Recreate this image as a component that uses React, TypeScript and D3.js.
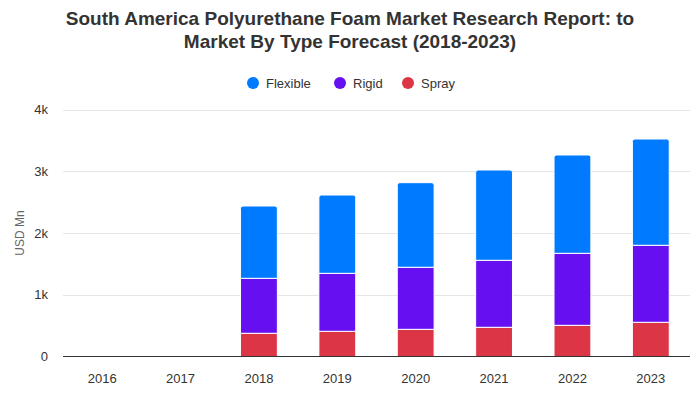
import React from "react";
import * as d3 from "d3";

const categories = ["2016", "2017", "2018", "2019", "2020", "2021", "2022", "2023"];
const seriesNames = ["Spray", "Rigid", "Flexible"];
const spray = [0, 0, 376, 408, 440, 473, 505, 554];
const rigid = [0, 0, 890, 939, 1005, 1085, 1166, 1247];
const flexible = [0, 0, 1171, 1268, 1370, 1462, 1592, 1721];
const yTicks = [0, 1000, 2000, 3000, 4000];
const yTickLabels = ["0", "1k", "2k", "3k", "4k"];
const colors: Record<string, string> = { Flexible: "#007bff", Rigid: "#6610f2", Spray: "#dc3545" };
const legendOrder = ["Flexible", "Rigid", "Spray"];

export default function App() {
  const W = 700, H = 400;
  const x = d3.scaleBand<string>().domain(categories).range([63, 690]).paddingInner(0.53).paddingOuter(0.265);
  const y = d3.scaleLinear().domain([0, 4000]).range([356.5, 109.5]);
  const rows = categories.map((c, i) => ({ cat: c, Spray: spray[i], Rigid: rigid[i], Flexible: flexible[i] }));
  const stack = d3.stack<any>().keys(seriesNames)(rows);
  const font = "'Liberation Sans', Arial, sans-serif";
  const legendX = [253, 340, 408];
  const r = 2.5;

  return (
    <svg width={W} height={H} style={{ position: "absolute", left: 0, top: 0, fontFamily: font }}>
      <rect width={W} height={H} fill="#fff" />
      <text x={350} y={25} textAnchor="middle" fontSize={19} fontWeight="bold" fill="#333">
        South America Polyurethane Foam Market Research Report: to
      </text>
      <text x={350} y={47.5} textAnchor="middle" fontSize={19} fontWeight="bold" fill="#333">
        Market By Type Forecast (2018-2023)
      </text>
      {legendOrder.map((n, i) => (
        <g key={n}>
          <circle cx={legendX[i]} cy={83} r={6} fill={colors[n]} />
          <text x={legendX[i] + 13} y={87.5} fontSize={13} fill="#333">{n}</text>
        </g>
      ))}
      {yTicks.map((t, i) => (
        <g key={t}>
          {t !== 0 && <line x1={63} x2={690} y1={Math.round(y(t)) + 0.5} y2={Math.round(y(t)) + 0.5} stroke="#e6e6e6" />}
          <text x={48} y={y(t) + 4.5} textAnchor="end" fontSize={13} fill="#333">{yTickLabels[i]}</text>
        </g>
      ))}
      <text transform={`translate(24,${y(2000)}) rotate(-90)`} textAnchor="middle" fontSize={12} fill="#666">USD Mn</text>
      {stack.map((s) => (
        <g key={s.key}>
          {s.map((d, i) => {
            if (d[1] - d[0] <= 0) return null;
            const x0 = x(categories[i])!;
            const w = x.bandwidth();
            const top = y(d[1]);
            const bot = y(d[0]);
            if (s.key === "Flexible") {
              const p = `M${x0},${bot} L${x0},${top + r} Q${x0},${top} ${x0 + r},${top} L${x0 + w - r},${top} Q${x0 + w},${top} ${x0 + w},${top + r} L${x0 + w},${bot} Z`;
              return <path key={i} d={p} fill={colors[s.key]} stroke="#fff" strokeWidth={1} />;
            }
            return <rect key={i} x={x0} y={top} width={w} height={bot - top} fill={colors[s.key]} stroke="#fff" strokeWidth={1} />;
          })}
        </g>
      ))}
      <line x1={63} x2={690} y1={356.5} y2={356.5} stroke="#333" strokeWidth={1} />
      {categories.map((c) => (
        <text key={c} x={x(c)! + x.bandwidth() / 2} y={383} textAnchor="middle" fontSize={13} fill="#333">{c}</text>
      ))}
    </svg>
  );
}
